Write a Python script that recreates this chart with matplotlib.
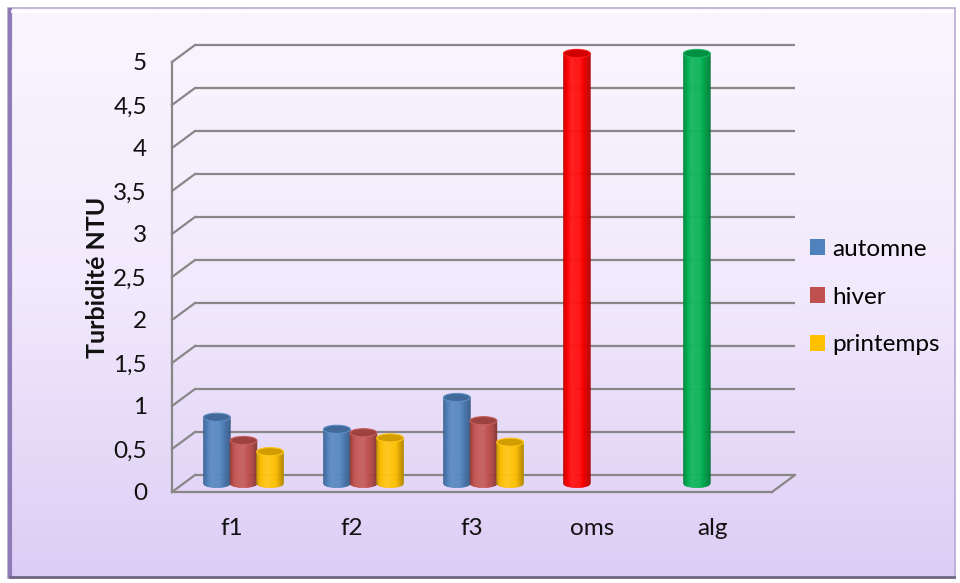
import numpy as np
import matplotlib.pyplot as plt
from matplotlib.collections import PolyCollection
from matplotlib.patches import Ellipse, Patch, Rectangle
from matplotlib.colors import to_rgb, LinearSegmentedColormap
from matplotlib.transforms import ScaledTranslation

categories = ["f1", "f2", "f3", "oms", "alg"]
automne = [0.77, 0.63, 1.0, 5.0, 5.0]
hiver = [0.50, 0.59, 0.73, np.nan, np.nan]
printemps = [0.37, 0.53, 0.48, np.nan, np.nan]
series_names = ["automne", "hiver", "printemps"]
yticks = [0, 0.5, 1, 1.5, 2, 2.5, 3, 3.5, 4, 4.5, 5]

blue_c = "#4F81BD"
red_c = "#C0504D"
yellow_c = "#FFC000"
oms_c = "#FF0000"
alg_c = "#00B050"
grid_c = "#878787"
automne_colors = [blue_c, blue_c, blue_c, oms_c, alg_c]

font = "Lato"
W, H, DPI = 960, 583, 100
depth_x, depth_y = 23, 17          # back wall offset in pixels

fig = plt.figure(figsize=(W / DPI, H / DPI), dpi=DPI)
fig.patch.set_facecolor("white")

# === chart area background with a soft vertical gradient ===
bg = fig.add_axes([0, 0, 1, 1])
bg.set_xlim(0, W)
bg.set_ylim(H, 0)
bg.axis("off")
grad = LinearSegmentedColormap.from_list("bg", ["#FAF6FF", "#F1E9FC", "#DCCDF5"])
bg.imshow(np.linspace(0, 1, 256).reshape(-1, 1), cmap=grad, aspect="auto",
          extent=(9, 955, 578, 9), zorder=0)
bg.add_patch(Rectangle((8, 8), 947, 570, fill=False, ec="#B7A9D3", lw=1.2, zorder=1))
bg.plot([10, 10], [10, 576], color="#8E7BB8", lw=3, zorder=2)
bg.plot([10, 954], [577, 577], color="#6F6884", lw=2, zorder=2)
bg.plot([12, 952], [11, 11], color="white", lw=2, zorder=2)

# === main axes: front plane of the 3D box ===
x0, x1, y0, y1 = 172, 772, 492, 62
ax = fig.add_axes([x0 / W, 1 - y0 / H, (x1 - x0) / W, (y0 - y1) / H])
ax.patch.set_alpha(0)
ax.set_xlim(-0.5, 4.5)
ax.set_ylim(0, 5)
for sp in ax.spines.values():
    sp.set_visible(False)

back = ax.transData + ScaledTranslation(depth_x / DPI, depth_y / DPI, fig.dpi_scale_trans)
mid = ax.transData + ScaledTranslation(depth_x / 2 / DPI, depth_y / 2 / DPI, fig.dpi_scale_trans)

# gridlines on the back wall and the left side wall
for v in yticks:
    ax.plot([-0.5, 4.5], [v, v], color=grid_c, lw=1.6, transform=back, zorder=1,
            solid_capstyle="butt", clip_on=False)
    p0 = ax.transData.transform((-0.5, v))
    p1 = back.transform((-0.5, v))
    ax.plot([p0[0], p1[0]], [p0[1], p1[1]], color=grid_c, lw=1.6,
            transform=None, zorder=1, clip_on=False)
# front vertical axis and floor front edge
ax.plot([-0.5, -0.5], [0, 5], color=grid_c, lw=1.6, zorder=1, clip_on=False)
ax.plot([-0.5, 4.5], [0, 0], color=grid_c, lw=1.6, zorder=1, clip_on=False)
f0 = ax.transData.transform((4.5, 0))
f1 = back.transform((4.5, 0))
ax.plot([f0[0], f1[0]], [f0[1], f1[1]], color=grid_c, lw=1.6, transform=None,
        zorder=1, clip_on=False)


def shade(base, t):
    rgb = np.array(to_rgb(base))
    f = 0.68 + 0.42 * np.sin(np.pi * t ** 0.8) ** 0.8
    if f <= 1:
        return tuple(rgb * f)
    return tuple(rgb + (1 - rgb) * (f - 1))


def cylinder(xc, value, color, radius=0.112, cap_h=0.095, n=30):
    us = np.linspace(-radius, radius, n + 1)
    yb = -cap_h / 2 * np.sqrt(np.clip(1 - (us / radius) ** 2, 0, 1))
    polys, cols = [], []
    for i in range(n):
        polys.append([(xc + us[i], yb[i]), (xc + us[i + 1], yb[i + 1]),
                      (xc + us[i + 1], value), (xc + us[i], value)])
        cols.append(shade(color, (i + 0.5) / n))
    pc = PolyCollection(polys, facecolors=cols, edgecolors=cols, linewidths=0.4,
                        transform=mid, zorder=3, clip_on=False)
    ax.add_collection(pc)
    top = np.array(to_rgb(color)) * 0.82
    ax.add_patch(Ellipse((xc, value), 2 * radius, cap_h, facecolor=top,
                         edgecolor=shade(color, 0.45), lw=0.8, transform=mid,
                         zorder=4, clip_on=False))


step = 0.222
for i, cat in enumerate(categories):
    for k, (vals, col) in enumerate(zip([automne, hiver, printemps],
                                        [automne_colors[i], red_c, yellow_c])):
        v = vals[i]
        if np.isnan(v):
            continue
        cylinder(i + (k - 1) * step, v, col)

# === axis labels and ticks ===
ax.set_yticks(yticks)
ax.set_yticklabels([f"{v:g}".replace(".", ",") for v in yticks])
ax.set_xticks(range(len(categories)))
ax.set_xticklabels(categories)
ax.tick_params(axis="y", length=0, pad=18, labelsize=17.5, labelcolor="#111111")
ax.tick_params(axis="x", length=0, pad=19, labelsize=17.5, labelcolor="#111111")
for lab in ax.get_xticklabels() + ax.get_yticklabels():
    lab.set_fontfamily(font)
ax.set_ylabel("Turbidité NTU", fontsize=18, fontweight="bold", fontfamily=font,
              labelpad=3, color="#111111")

handles = [Patch(facecolor=c, edgecolor="none") for c in (blue_c, red_c, yellow_c)]
fig.legend(handles, series_names, loc="center left", bbox_to_anchor=(810 / W, 1 - 297 / H),
           frameon=False, prop={"family": font, "size": 17.5}, handlelength=0.62,
           handleheight=0.62, handletextpad=0.3, labelspacing=1.1, borderpad=0,
           borderaxespad=0)

fig.savefig("out.png", dpi=DPI)
